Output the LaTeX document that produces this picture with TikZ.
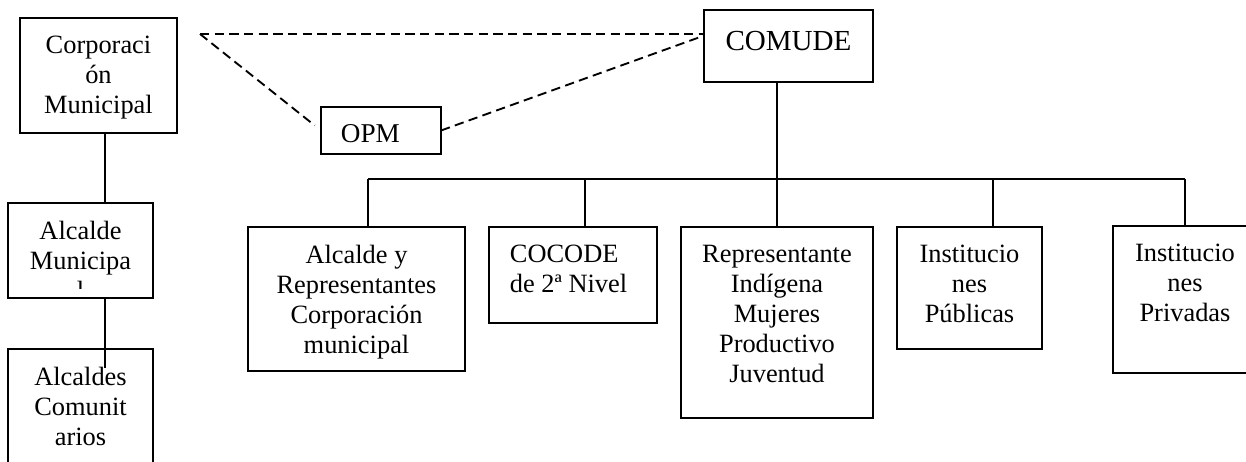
\documentclass[tikz,border=0pt]{standalone}
\usepackage{fontspec}
\setmainfont{Liberation Serif}
\usetikzlibrary{positioning,calc}
\tikzset{every picture/.style={line width=1.4pt}}
\tikzset{
  caja/.style 2 args={draw, inner sep=0pt, outer sep=0pt, anchor=north west, minimum width=#1*0.75pt, minimum height=#2*0.75pt},
  texto/.style={inner sep=0pt, align=center, font=\fontsize{19.8pt}{22.5pt}\selectfont},
  enlace/.style={dash pattern=on 7pt off 4pt}
}
\begin{document}
\begin{tikzpicture}[x=0.75pt,y=0.75pt,yscale=-1,xscale=1]
\useasboundingbox (0,0) rectangle (1246,461);

%Shape: Rectangle [left column]
\node[caja={157}{115}] (corp) at (20,18) {};
\node[caja={145}{95}] (alcm) at (8,203) {};
\node[caja={145}{130}] (alcc) at (8,349) {};
%Shape: Rectangle [OPM and COMUDE]
\node[caja={120}{47}] (opm) at (321,107) {};
\node[caja={169}{72}] (comude) at (704,10) {};
%Shape: Rectangle [second level]
\node[caja={217}{144}] (alcy) at (248,227) {};
\node[caja={168}{96}] (cocode) at (489,227) {};
\node[caja={192}{191}] (rep) at (681,227) {};
\node[caja={145}{122}] (pub) at (897,227) {};
\node[caja={144}{147}] (priv) at (1113,226) {};

%Dashed Lines
\coordinate (vertice) at (200,34);
\draw[enlace] (vertice) -- (vertice -| comude.west);
\draw[enlace, shorten >=6pt] (vertice) -- (opm.west);
\draw[enlace] (opm.east) -- (comude.173);

%Straight Lines [left column]
\coordinate (eje) at (105,0);
\draw (corp.south -| eje) -- (alcm.north -| eje);
\draw (alcm.south -| eje) -- ($(alcc.north -| eje)+(0,19)$);

%Straight Lines [tree under COMUDE]
\coordinate (barra) at (777,179);
\draw (comude.south -| barra) -- (barra);
\draw (barra -| 368,0) -- (barra -| 1185,0);
\foreach \n/\x in {alcy/368,cocode/585,rep/777,pub/993,priv/1185}
  \draw (barra -| \x,0) -- (\n.north -| \x,0);

% Text Node
\node[texto, below=12.75pt of corp.north] (tcorp) {Corporaci\\ón\\Municipal};
% Text Node
\begin{scope}
\clip (alcm.north west) rectangle ($(alcm.south east)+(0,-10)$);
\node[texto, below=12.75pt of alcm.north] (talcm) {Alcalde\\Municipa\\l};
\end{scope}
% Text Node
\node[texto, below=12.75pt of alcc.north] (talcc) {Alcaldes\\Comunit\\arios};
% Text Node
\node[texto, align=left, font=\fontsize{20.4pt}{23pt}\selectfont, below right=12.75pt and 14.25pt of opm.north west] (topm) {OPM};
% Text Node
\node[texto, font=\fontsize{21.8pt}{25pt}\selectfont, below=15.6pt of comude.north] (tcomude) {COMUDE};
% Text Node
\node[texto, below=12.75pt of alcy.north] (talcy) {Alcalde y\\Representantes\\Corporación\\municipal};
% Text Node
\node[texto, align=left, below right=12.75pt and 15pt of cocode.north west] (tcocode) {COCODE\\de 2ª Nivel};
% Text Node
\node[texto, below=12.75pt of rep.north] (trep) {Representante\\Indígena\\Mujeres\\Productivo\\Juventud};
% Text Node
\node[texto, below=12.75pt of pub.north] (tpub) {Institucio\\nes\\Públicas};
% Text Node
\node[texto, below=12.75pt of priv.north] (tpriv) {Institucio\\nes\\Privadas};

\end{tikzpicture}
\end{document}
